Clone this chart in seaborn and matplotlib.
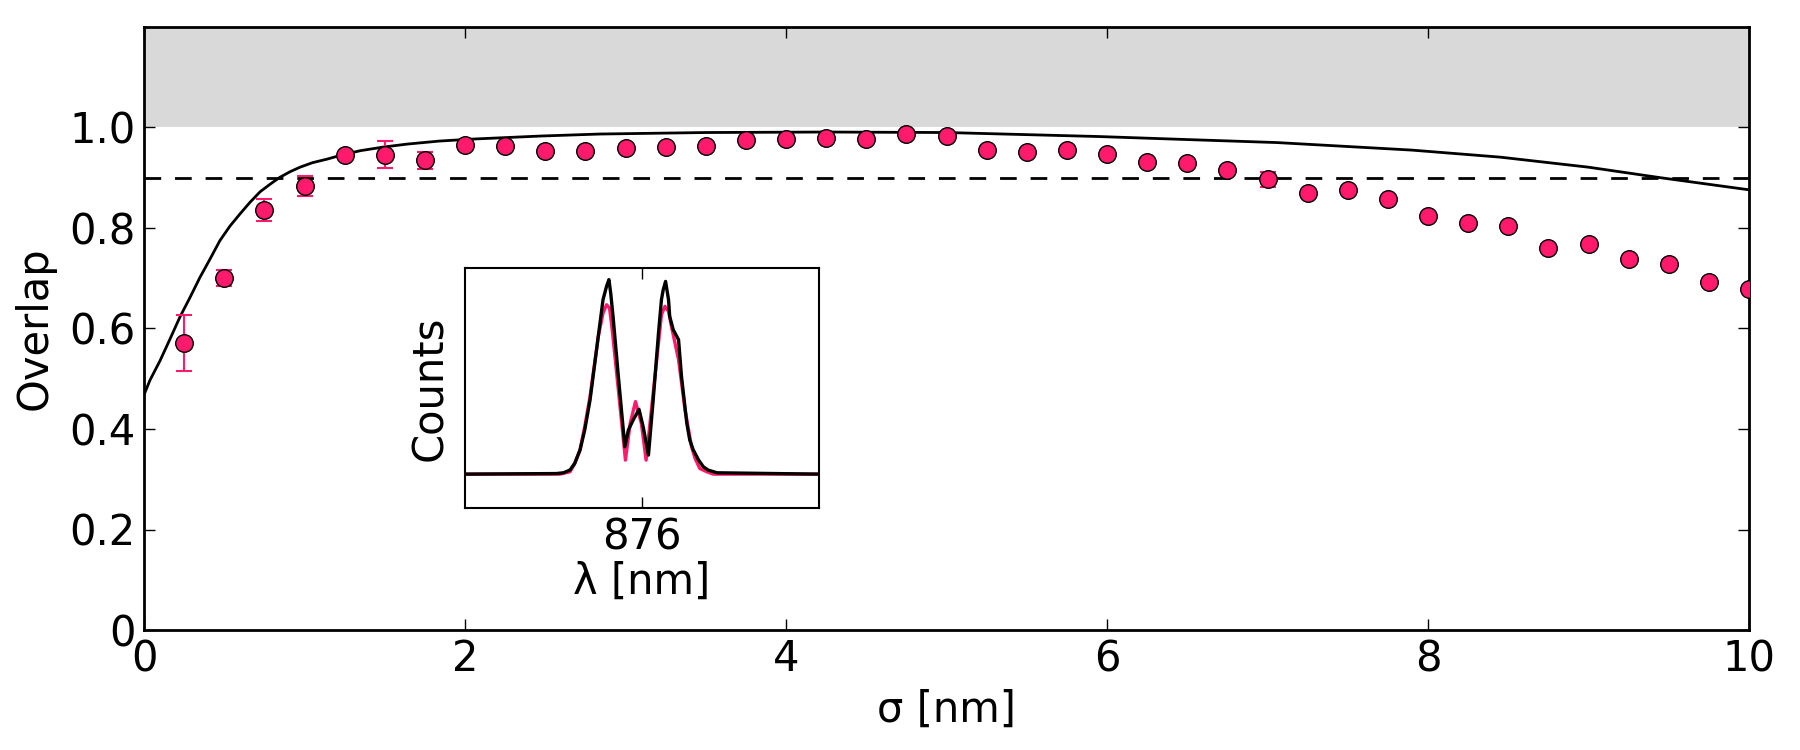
import numpy as np
import pandas as pd
import seaborn as sns
import matplotlib
matplotlib.use('Agg')
import matplotlib.pyplot as plt

# ---------------------------------------------------------------
# Data
# ---------------------------------------------------------------
sigma = [0.25, 0.5, 0.75, 1.0, 1.25, 1.5, 1.75, 2.0, 2.25, 2.5, 2.75, 3.0, 3.25, 3.5,
         3.75, 4.0, 4.25, 4.5, 4.75, 5.0, 5.25, 5.5, 5.75, 6.0, 6.25, 6.5, 6.75, 7.0,
         7.25, 7.5, 7.75, 8.0, 8.25, 8.5, 8.75, 9.0, 9.25, 9.5, 9.75, 10.0]
overlap = [0.571, 0.700, 0.835, 0.883, 0.946, 0.946, 0.935, 0.965, 0.964, 0.954, 0.953,
           0.959, 0.962, 0.964, 0.976, 0.977, 0.980, 0.977, 0.987, 0.983, 0.956, 0.952,
           0.956, 0.947, 0.932, 0.930, 0.916, 0.897, 0.869, 0.875, 0.858, 0.823, 0.810,
           0.803, 0.761, 0.768, 0.739, 0.728, 0.693, 0.678]
overlap_err = [0.055, 0.016, 0.022, 0.020, 0.004, 0.027, 0.017, 0.006, 0.003, 0.003, 0.003,
               0.003, 0.003, 0.003, 0.003, 0.003, 0.003, 0.003, 0.003, 0.003, 0.006, 0.003,
               0.003, 0.003, 0.003, 0.003, 0.003, 0.0145, 0.003, 0.003, 0.003, 0.003, 0.003,
               0.003, 0.008, 0.003, 0.003, 0.008, 0.003, 0.003]

# theory curve
curve_sigma = [0, 0.037, 0.1, 0.162, 0.224, 0.287, 0.349, 0.411, 0.473, 0.536, 0.598,
               0.66, 0.723, 0.785, 0.847, 0.91, 0.972, 1.05, 1.14, 1.24, 1.35, 1.49,
               1.64, 1.84, 2.05, 2.26, 2.47, 2.84, 3.5, 4.25, 5.0, 5.95, 6.5, 7.06, 7.9,
               8.45, 9.0, 9.45, 10.0]
curve_overlap = [0.468, 0.497, 0.536, 0.579, 0.623, 0.662, 0.702, 0.738, 0.775, 0.804,
                 0.828, 0.851, 0.872, 0.887, 0.901, 0.912, 0.921, 0.930, 0.937, 0.946,
                 0.954, 0.961, 0.967, 0.973, 0.977, 0.980, 0.983, 0.987, 0.990, 0.991,
                 0.990, 0.982, 0.976, 0.970, 0.955, 0.941, 0.921, 0.900, 0.876]

threshold = 0.9

# inset spectra
lam_black = [873.00, 874.55, 874.67, 874.78, 874.86, 874.95, 875.03, 875.12, 875.23, 875.34,
             875.40, 875.44, 875.47, 875.51, 875.60, 875.71, 875.77, 875.85, 875.95, 876.02,
             876.11, 876.19, 876.28, 876.33, 876.36, 876.40, 876.45, 876.47, 876.53, 876.62,
             876.67, 876.76, 876.81, 876.87, 876.96, 877.04, 877.12, 877.27, 879.00]
counts_black = [0, 0.003, 0.007, 0.021, 0.055, 0.124, 0.227, 0.381, 0.639, 0.897,
                0.966, 1.0, 0.931, 0.811, 0.502, 0.141, 0.227, 0.278, 0.333, 0.244,
                0.098, 0.381, 0.725, 0.897, 0.948, 0.991, 0.897, 0.811, 0.742, 0.691,
                0.502, 0.261, 0.175, 0.124, 0.072, 0.038, 0.021, 0.007, 0]
lam_pink = [873.00, 874.61, 874.78, 874.86, 874.95, 875.03, 875.12, 875.26, 875.34, 875.40,
            875.45, 875.49, 875.60, 875.72, 875.80, 875.89, 875.99, 876.07, 876.16, 876.28,
            876.33, 876.39, 876.45, 876.50, 876.62, 876.73, 876.79, 876.84, 876.90, 876.98,
            877.10, 877.21, 879.00]
counts_pink = [0, 0, 0.012, 0.055, 0.124, 0.244, 0.399, 0.708, 0.828, 0.871,
               0.854, 0.759, 0.433, 0.072, 0.261, 0.373, 0.261, 0.072, 0.330, 0.674,
               0.820, 0.863, 0.837, 0.759, 0.588, 0.330, 0.227, 0.141, 0.081, 0.029,
               0.012, 0, 0]

pink = '#ff1a6c'

# ---------------------------------------------------------------
# Style
# ---------------------------------------------------------------
sns.set_style('ticks')
plt.rcParams['font.family'] = ['DejaVu Sans']
plt.rcParams['xtick.direction'] = 'in'
plt.rcParams['ytick.direction'] = 'in'
plt.rcParams['text.color'] = 'black'
plt.rcParams['axes.labelcolor'] = 'black'
plt.rcParams['xtick.color'] = 'black'
plt.rcParams['ytick.color'] = 'black'
plt.rcParams['axes.edgecolor'] = 'black'

fs = 30

fig = plt.figure(figsize=(18, 7.5), dpi=100)
ax = fig.add_axes([0.08, 0.16, 0.8917, 0.804])

# gray forbidden region and threshold
ax.axhspan(1.0, 1.2, color='#d9d9d9', lw=0, zorder=0)
ax.axhline(threshold, color='black', ls='--', lw=2, dashes=(6, 5), zorder=1)

# theory curve
sns.lineplot(x=curve_sigma, y=curve_overlap, ax=ax, color='black', lw=2, zorder=2)

# measured points
ax.errorbar(sigma, overlap, yerr=overlap_err, fmt='none', ecolor=pink, elinewidth=1.5,
            capsize=6, capthick=1.5, zorder=3)
sns.scatterplot(x=sigma, y=overlap, ax=ax, color=pink, edgecolor='black', linewidth=1,
                s=160, zorder=4)

ax.set_xlim(0, 10)
ax.set_ylim(0, 1.2)
ax.set_xticks([0, 2, 4, 6, 8, 10])
ax.set_xticklabels(['0', '2', '4', '6', '8', '10'])
ax.set_yticks([0, 0.2, 0.4, 0.6, 0.8, 1.0])
ax.set_yticklabels(['0', '0.2', '0.4', '0.6', '0.8', '1.0'])
ax.tick_params(axis='both', which='major', labelsize=fs, length=8, width=1,
               top=True, right=True, pad=6)
for sp in ax.spines.values():
    sp.set_linewidth(2)
    sp.set_visible(True)
ax.set_xlabel('σ [nm]', fontsize=fs, labelpad=6)
ax.set_ylabel('Overlap', fontsize=fs, labelpad=10)

# ---------------------------------------------------------------
# Inset: spectra
# ---------------------------------------------------------------
axin = fig.add_axes([0.2583, 0.3227, 0.1967, 0.32])
sns.lineplot(x=lam_pink, y=counts_pink, ax=axin, color=pink, lw=2.4)
sns.lineplot(x=lam_black, y=counts_black, ax=axin, color='black', lw=2.4)
axin.set_xlim(873, 879)
axin.set_ylim(-0.174, 1.06)
axin.set_xticks([876])
axin.set_xticklabels(['876'])
axin.set_yticks([])
axin.tick_params(axis='x', labelsize=fs, length=8, width=1, top=True, pad=6)
for sp in axin.spines.values():
    sp.set_linewidth(1.5)
    sp.set_visible(True)
axin.set_xlabel('λ [nm]', fontsize=fs, labelpad=2)
axin.set_ylabel('Counts', fontsize=fs, labelpad=10)

fig.savefig('out.png', dpi=100)
